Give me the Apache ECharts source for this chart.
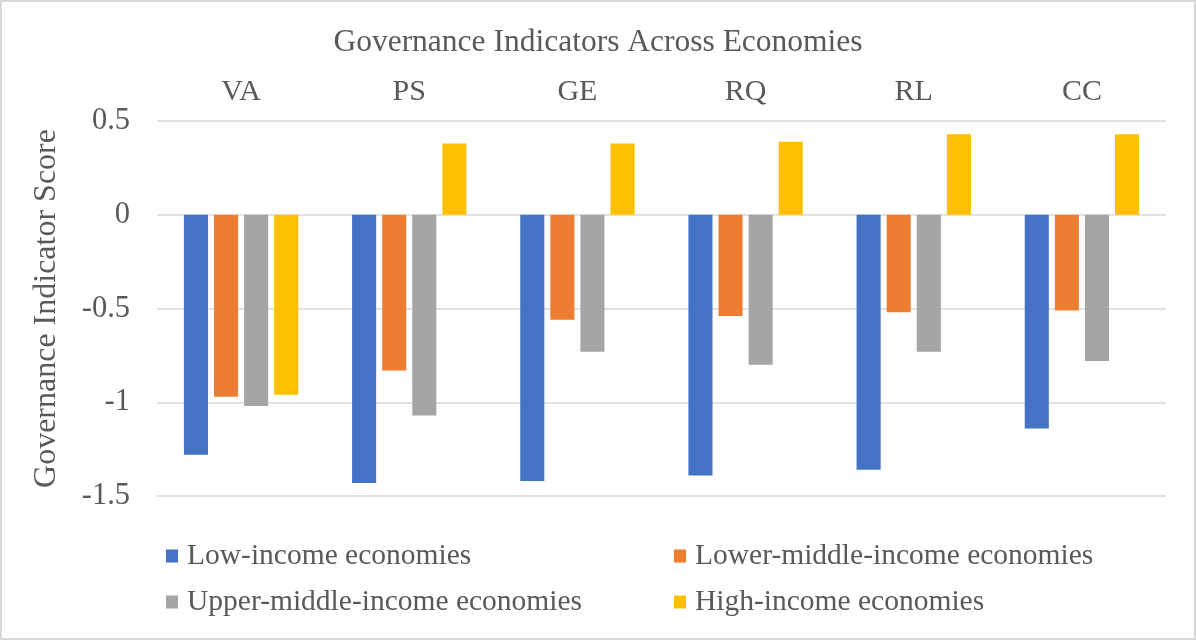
<!DOCTYPE html>
<html>
<head>
<meta charset="utf-8">
<script src="https://cdn.jsdelivr.net/npm/echarts@6/dist/echarts.min.js"></script>
<style>
  html, body { margin: 0; padding: 0; background: #fff; }
  #chart { width: 1196px; height: 640px; box-sizing: border-box; border: 2px solid #d9d9d9; }
</style>
</head>
<body>
<div id="chart"></div>
<script>
// indicators (top axis)
const categories = ['VA', 'PS', 'GE', 'RQ', 'RL', 'CC']
const seriesNames = [
  'Low-income economies',
  'Lower-middle-income economies',
  'Upper-middle-income economies',
  'High-income economies'
]
// scores
const lowIncome = [-1.28, -1.43, -1.42, -1.39, -1.36, -1.14]
const lowerMiddle = [-0.97, -0.83, -0.56, -0.54, -0.52, -0.51]
const upperMiddle = [-1.02, -1.07, -0.73, -0.80, -0.73, -0.78]
const highIncome = [-0.96, 0.38, 0.38, 0.39, 0.43, 0.43]

const colors = ['#4472C4', '#ED7D31', '#A5A5A5', '#FFC000']
const font = '"Liberation Serif", "Times New Roman", serif'
const textColor = '#595959'

const chart = echarts.init(document.getElementById('chart'))

const dataList = [lowIncome, lowerMiddle, upperMiddle, highIncome]
const series = dataList.map((d, i) => ({
  name: seriesNames[i],
  type: 'bar',
  data: d,
  barGap: '25%',
  barCategoryGap: '32%',
  itemStyle: { color: colors[i] }
}))

// one legend per item so the two-column layout matches
const legendPos = [
  { left: 164, top: 539 },
  { left: 672, top: 539 },
  { left: 164, top: 585 },
  { left: 672, top: 585 }
]
const legends = seriesNames.map((n, i) => ({
  data: [n],
  left: legendPos[i].left,
  top: legendPos[i].top,
  icon: 'rect',
  itemWidth: 12,
  itemHeight: 13,
  padding: 0,
  textStyle: { fontFamily: font, fontSize: 29.5, color: textColor, padding: [0, 0, 0, 4] }
}))

const option = {
  animation: false,
  color: colors,
  title: {
    text: 'Governance Indicators Across Economies',
    left: 'center',
    top: 20,
    textStyle: { fontFamily: font, fontSize: 31.5, fontWeight: 'normal', color: textColor }
  },
  legend: legends,
  grid: { left: 155, right: 28, top: 119, bottom: 142 },
  xAxis: {
    type: 'category',
    position: 'top',
    data: categories,
    axisLine: { show: false },
    axisTick: { show: false },
    axisLabel: { fontFamily: font, fontSize: 30, color: textColor, margin: 14 }
  },
  yAxis: {
    type: 'value',
    min: -1.5,
    max: 0.5,
    interval: 0.5,
    name: 'Governance Indicator Score',
    nameLocation: 'middle',
    nameGap: 94,
    nameTextStyle: { fontFamily: font, fontSize: 32, color: textColor },
    axisLine: { show: false },
    axisTick: { show: false },
    axisLabel: { fontFamily: font, fontSize: 30.5, color: textColor, margin: 27 },
    splitLine: { lineStyle: { color: '#d9d9d9', width: 1.5 } }
  },
  series: series
}

chart.setOption(option)
</script>
</body>
</html>
